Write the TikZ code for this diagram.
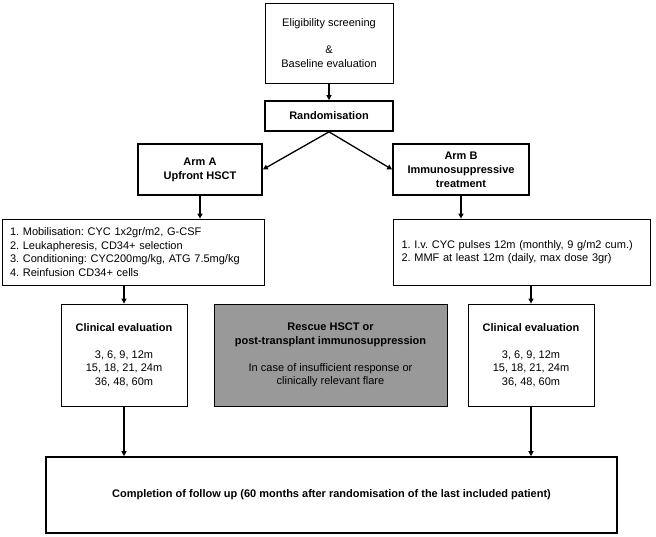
\documentclass[tikz,border=0pt]{standalone}
\usepackage{fontspec}
\setmainfont{Liberation Sans}
\usepackage{tikz}
\usetikzlibrary{arrows,positioning,calc,arrows.meta}
\definecolor{rescuegray}{RGB}{153,153,153}
\frenchspacing
\tikzset{
	box/.style={rectangle,draw=black,line width=0.8pt,fill=white,inner sep=0pt,align=center,font=\fontsize{11}{13.5}\selectfont},
	thickbox/.style={box,line width=1.7pt,font=\fontsize{11}{14}\selectfont\bfseries},
	listbox/.style={box,align=left,text width=#1},
	rescue/.style={box,fill=rescuegray},
	diredge/.style={->,>={Triangle[width=5pt,length=5pt]},color=black,line width=1.3pt}
}
\begin{document}
\begin{tikzpicture}[x=1pt,y=-1pt]
	\useasboundingbox (0,0) rectangle (656,536);

	%%Screening and randomisation
	\node[box,minimum width=128,minimum height=80] (elig) at (329,43)
	{Eligibility screening\\[13.5pt]\&\\Baseline evaluation};
	\node[thickbox,minimum width=128,minimum height=30] (rand) at (329,116) {Randomisation};

	%%Arms
	\node[thickbox,minimum width=124,minimum height=51] (armA) at (200,169.5) {Arm A\\Upfront HSCT};
	\node[thickbox,minimum width=136,minimum height=51] (armB) at (461,169.5) {Arm B\\Immunosuppressive\\treatment};

	%%Treatment lists
	\node[listbox=246pt,minimum width=262,minimum height=66] (listA) at (133,252)
	{1. Mobilisation: CYC 1x2gr/m2, G-CSF\\2. Leukapheresis, CD34+ selection\\3. Conditioning: CYC200mg/kg, ATG 7.5mg/kg\\4. Reinfusion CD34+ cells};
	\node[listbox=240pt,minimum width=257,minimum height=66] (listB) at (521.5,252)
	{1. I.v. CYC pulses 12m (monthly, 9 g/m2 cum.)\\2. MMF at least 12m (daily, max dose 3gr)};

	%%Evaluation and rescue
	\node[box,minimum width=126,minimum height=102] (clinA) at (124,355)
	{\textbf{Clinical evaluation}\\[13.5pt]3, 6, 9, 12m\\15, 18, 21, 24m\\36, 48, 60m};
	\node[rescue,minimum width=233,minimum height=102] (resc) at (330.5,355)
	{\textbf{Rescue HSCT or}\\\textbf{post-transplant immunosuppression}\\[13.5pt]In case of insufficient response or\\clinically relevant flare};
	\node[box,minimum width=126,minimum height=102] (clinB) at (531,355)
	{\textbf{Clinical evaluation}\\[13.5pt]3, 6, 9, 12m\\15, 18, 21, 24m\\36, 48, 60m};

	%%Follow up
	\node[thickbox,minimum width=571,minimum height=76] (follow) at (331.5,495)
	{Completion of follow up (60 months after randomisation of the last included patient)};

	%%%%%% EDGES
	\draw[diredge] (elig) to (rand);
	\draw[diredge] (rand.south) to (armA.east);
	\draw[diredge] (rand.south) to (armB.west);
	\draw[diredge] (armA) to (armA |- listA.north);
	\draw[diredge] (armB) to (armB |- listB.north);
	\draw[diredge] (clinA |- listA.south) to (clinA);
	\draw[diredge] (clinB |- listB.south) to (clinB);
	\draw[diredge] (clinA) to (clinA |- follow.north);
	\draw[diredge] (clinB) to (clinB |- follow.north);

\end{tikzpicture}
\end{document}
